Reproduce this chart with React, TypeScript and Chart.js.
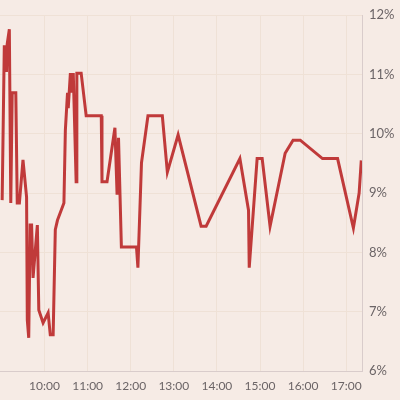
import React, { useEffect, useRef } from "react";
import { Chart, registerables } from "chart.js";

Chart.register(...registerables);

// minutes since midnight
const times = [
  541, 544, 547, 548, 551, 553, 555, 560, 562, 565, 570, 575, 576, 578, 580, 582, 584, 590, 592, 598,
  605, 608, 612, 615, 618, 627, 629, 632, 633, 636, 638, 640, 644, 645, 651, 658, 679, 680, 687, 698,
  701, 703, 707, 728, 730, 735, 744, 764, 771, 786, 818, 825, 872, 884, 885, 896, 903, 914, 935, 946,
  956, 987, 1008, 1030, 1038, 1041,
];
const values = [
  8.88, 11.49, 11.04, 11.51, 11.76, 8.83, 10.69, 10.69, 8.83, 8.83, 9.56, 8.93, 6.86, 6.56, 8.46, 8.46, 7.57, 8.46, 7.03, 6.81,
  6.98, 6.61, 6.61, 8.38, 8.54, 8.83, 10.06, 10.69, 10.43, 11.02, 10.69, 11.02, 9.19, 11.02, 11.02, 10.3, 10.3, 9.19, 9.19, 10.1,
  8.97, 9.93, 8.09, 8.09, 7.74, 9.51, 10.3, 10.3, 9.35, 9.98, 8.44, 8.44, 9.58, 8.71, 7.74, 9.58, 9.58, 8.44, 9.67, 9.89,
  9.89, 9.58, 9.58, 8.41, 9.0, 9.55,
];
const hourTicks = [600, 660, 720, 780, 840, 900, 960, 1020];
const yTicks = [6, 7, 8, 9, 10, 11, 12];

export default function App() {
  const ref = useRef<HTMLCanvasElement>(null);
  useEffect(() => {
    const ctx = ref.current!;
    const font = { family: "Lato, 'DejaVu Sans', sans-serif", size: 13 };
    const chart = new Chart(ctx, {
      type: "line",
      data: {
        datasets: [
          {
            data: times.map((t, i) => ({ x: t, y: values[i] })),
            borderColor: "#c03a3a",
            borderWidth: 3,
            pointRadius: 0,
            tension: 0,
            fill: false,
          },
        ],
      },
      options: {
        animation: false,
        responsive: false,
        maintainAspectRatio: false,
        parsing: false as any,
        layout: { padding: { top: 15, left: 0, right: 0, bottom: 0 } },
        plugins: { legend: { display: false }, tooltip: { enabled: false } },
        scales: {
          x: {
            type: "linear",
            min: 538,
            max: 1042,
            grid: { color: "#efe1d6", drawTicks: false },
            border: { color: "#d9cccb" },
            afterBuildTicks: (s: any) => {
              s.ticks = hourTicks.map((v) => ({ value: v }));
            },
            afterFit: (s: any) => {
              s.height = 29;
            },
            ticks: {
              color: "#6b6466",
              font: { ...font, size: 12 },
              padding: 8,
              maxRotation: 0,
              autoSkip: false,
              callback: (v: any) => `${Math.floor(v / 60)}:${String(v % 60).padStart(2, "0")}`,
            },
          },
          y: {
            position: "right",
            min: 6,
            max: 12,
            grid: { color: "#efe1d6", drawTicks: false },
            border: { color: "#d9cccb" },
            afterBuildTicks: (s: any) => {
              s.ticks = yTicks.map((v) => ({ value: v }));
            },
            afterFit: (s: any) => {
              s.width = 38;
            },
            ticks: {
              color: "#6b6466",
              font,
              padding: 7,
              callback: (v: any) => `${v}%`,
            },
          },
        },
      },
    });
    return () => chart.destroy();
  }, []);
  return (
    <div style={{ position: "fixed", left: 0, top: 0, width: 400, height: 400, background: "#f6ebe5" }}>
      <canvas ref={ref} width={400} height={400} style={{ display: "block" }} />
    </div>
  );
}
